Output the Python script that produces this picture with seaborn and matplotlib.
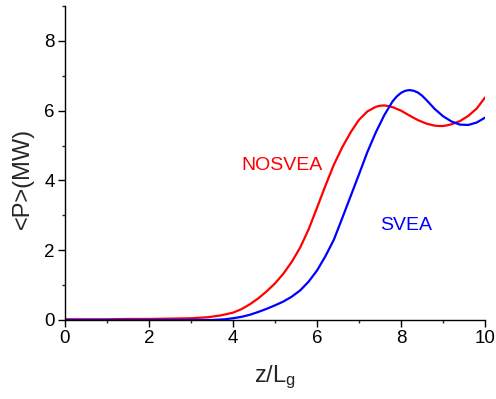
import numpy as np
import pandas as pd
import seaborn as sns
import matplotlib
matplotlib.use("Agg")
import matplotlib.pyplot as plt
from matplotlib.ticker import MultipleLocator

# z/Lg positions and average power (MW)
z_nosvea = [0.0, 0.5, 1.0, 1.5, 2.0, 2.5, 3.0, 3.4, 3.7, 4.0,
            4.2, 4.4, 4.6, 4.8, 5.0, 5.2, 5.4, 5.6, 5.8, 6.0,
            6.2, 6.4, 6.6, 6.8, 7.0, 7.2, 7.4, 7.5, 7.6, 7.7, 7.8, 8.0,
            8.2, 8.4, 8.6, 8.8, 8.9, 9.0, 9.1, 9.2, 9.4, 9.6, 9.8, 10.0]
p_nosvea = [0.02, 0.02, 0.02, 0.03, 0.03, 0.04, 0.05, 0.08, 0.13, 0.21,
            0.31, 0.45, 0.62, 0.82, 1.05, 1.33, 1.67, 2.08, 2.6, 3.22,
            3.85, 4.45, 4.95, 5.38, 5.74, 5.98, 6.11, 6.14, 6.15, 6.13, 6.1, 6.0,
            5.86, 5.73, 5.63, 5.57, 5.56, 5.56, 5.58, 5.61, 5.7, 5.85, 6.06, 6.38]

z_svea = [0.0, 1.0, 2.0, 3.0, 3.5, 3.8, 4.0,
          4.2, 4.4, 4.6, 4.8, 5.0, 5.2, 5.4, 5.6, 5.8, 6.0,
          6.2, 6.4, 6.6, 6.8, 7.0, 7.2, 7.4, 7.6, 7.8, 7.9, 8.0,
          8.1, 8.2, 8.3, 8.4, 8.5, 8.6, 8.7, 8.8, 9.0, 9.2, 9.4, 9.6, 9.8, 10.0]
p_svea = [0.0, 0.0, 0.0, 0.0, 0.0, 0.02, 0.05,
          0.09, 0.15, 0.23, 0.32, 0.42, 0.53, 0.67, 0.85, 1.1, 1.42,
          1.83, 2.3, 2.92, 3.55, 4.18, 4.82, 5.38, 5.87, 6.27, 6.41, 6.51,
          6.57, 6.59, 6.57, 6.52, 6.43, 6.31, 6.18, 6.05, 5.84, 5.69, 5.6, 5.59, 5.66, 5.8]

sns.set_style("ticks")
plt.rcParams["font.family"] = ["Liberation Sans", "DejaVu Sans"]
plt.rcParams["mathtext.fontset"] = "custom"
plt.rcParams["mathtext.rm"] = "Liberation Sans"
plt.rcParams["mathtext.it"] = "Liberation Sans"

fig = plt.figure(figsize=(4.96, 3.99), dpi=100)
ax = fig.add_axes([0.131, 0.198, 0.847, 0.787])

sns.lineplot(x=z_nosvea, y=p_nosvea, color="#ff0000", linewidth=1.6, ax=ax)
sns.lineplot(x=z_svea, y=p_svea, color="#0000ff", linewidth=1.6, ax=ax)

ax.text(4.2, 4.43, "NOSVEA", color="#ff0000", fontsize=14, va="center", ha="left")
ax.text(7.5, 2.7, "SVEA", color="#0000ff", fontsize=14, va="center", ha="left")

ax.set_xlim(0, 10)
ax.set_ylim(0, 9.0)
ax.xaxis.set_major_locator(MultipleLocator(2))
ax.xaxis.set_minor_locator(MultipleLocator(1))
ax.yaxis.set_major_locator(MultipleLocator(2))
ax.yaxis.set_minor_locator(MultipleLocator(1))
ax.tick_params(which="major", length=5, width=1, pad=2.5, labelsize=13.5, colors="black")
ax.tick_params(which="minor", length=2.5, width=1)
for s in ["top", "right"]:
    ax.spines[s].set_visible(False)
for s in ["left", "bottom"]:
    ax.spines[s].set_linewidth(1)
    ax.spines[s].set_color("black")

ax.set_xlabel(r"z/L$_\mathregular{g}$", fontsize=17, labelpad=12)
ax.set_ylabel("<P>(MW)", fontsize=17)
ax.yaxis.set_label_coords(-0.073, 0.452)

fig.savefig("out.png", dpi=100)
